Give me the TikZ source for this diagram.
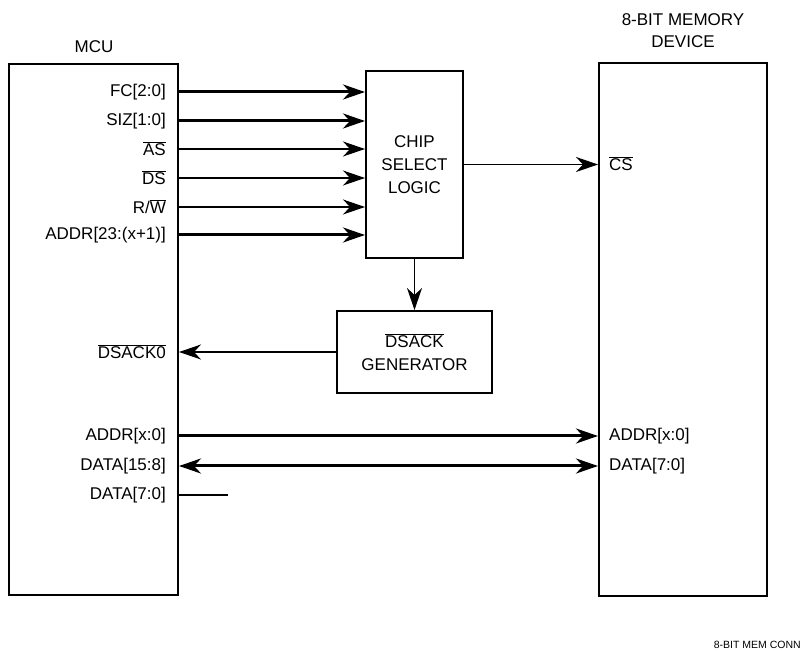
\documentclass[tikz,border=0pt]{standalone}
\usepackage{fontspec}
\setmainfont{Liberation Sans}
\usetikzlibrary{arrows.meta}
\newcommand{\ob}[1]{$\overline{\hbox{#1}}$}
\begin{document}
\begin{tikzpicture}[x=1pt,y=-1pt,
  box/.style={draw,line width=2pt,inner sep=0pt},
  lbl/.style={font=\fontsize{17}{20}\selectfont,inner sep=0pt},
  tip/.tip={Stealth[length=22pt,width=15pt,inset=7pt]},
  bus/.style={line width=3pt,-tip},
  sig/.style={line width=1.1pt,-tip}
]
\useasboundingbox (0,0) rectangle (804,652);
% boxes
\node[box,minimum width=169pt,minimum height=531pt] (mcu) at (93.5,329.5) {};
\node[box,minimum width=168pt,minimum height=533pt] (mem) at (683,329.5) {};
\node[box,minimum width=97pt,minimum height=187pt,align=center,lbl] (csl) at (414.5,164.5) {CHIP\\[3pt]SELECT\\[3pt]LOGIC};
\node[box,minimum width=155pt,minimum height=82pt,align=center,lbl] (dgen) at (414.5,352) {\ob{DSACK}\\[3pt]GENERATOR};
% titles
\node[lbl] (tmcu) at (94,47) {MCU};
\node[lbl,align=center] (tmem) at (683,31) {8-BIT MEMORY\\[2pt]DEVICE};
% MCU labels
\node[lbl,anchor=east] (fc) at (166,92) {FC[2:0]};
\node[lbl,anchor=east] (siz) at (166,121) {SIZ[1:0]};
\node[lbl,anchor=east] (as) at (166,149) {\ob{AS}};
\node[lbl,anchor=east] (ds) at (166,178) {\ob{DS}};
\node[lbl,anchor=east] (rw) at (166,207) {R/\ob{W}};
\node[lbl,anchor=east] (addrh) at (166,235) {ADDR[23:(x+1)]};
\node[lbl,anchor=east] (dsack) at (166,352) {\ob{DSACK0}};
\node[lbl,anchor=east] (addrl) at (166,436) {ADDR[x:0]};
\node[lbl,anchor=east] (datah) at (166,466) {DATA[15:8]};
\node[lbl,anchor=east] (datal) at (166,495) {DATA[7:0]};
% memory labels
\node[lbl,anchor=west] (cs) at (609,164) {\ob{CS}};
\node[lbl,anchor=west] (maddr) at (609,436) {ADDR[x:0]};
\node[lbl,anchor=west] (mdata) at (609,466) {DATA[7:0]};
% footer
\node[font=\fontsize{10.5}{12}\selectfont,anchor=east,inner sep=0pt] (foot) at (801,645) {8-BIT MEM CONN};
\coordinate (dend) at (228,495);
% connectors
\draw[bus] (mcu.east |- fc) -- (csl.west |- fc);
\draw[bus] (mcu.east |- siz) -- (csl.west |- siz);
\draw[sig] (mcu.east |- as) -- (csl.west |- as);
\draw[sig] (mcu.east |- ds) -- (csl.west |- ds);
\draw[sig] (mcu.east |- rw) -- (csl.west |- rw);
\draw[bus] (mcu.east |- addrh) -- (csl.west |- addrh);
\draw[sig] (csl.east) -- (mem.west |- csl.east);
\draw[sig] (csl.south) -- (dgen.north);
\draw[sig] (dgen.west) -- (mcu.east |- dgen.west);
\draw[bus] (mcu.east |- addrl) -- (mem.west |- addrl);
\draw[line width=3pt,tip-tip] (mcu.east |- datah) -- (mem.west |- datah);
\draw[line width=1.1pt] (mcu.east |- datal) -- (dend);
\end{tikzpicture}
\end{document}
